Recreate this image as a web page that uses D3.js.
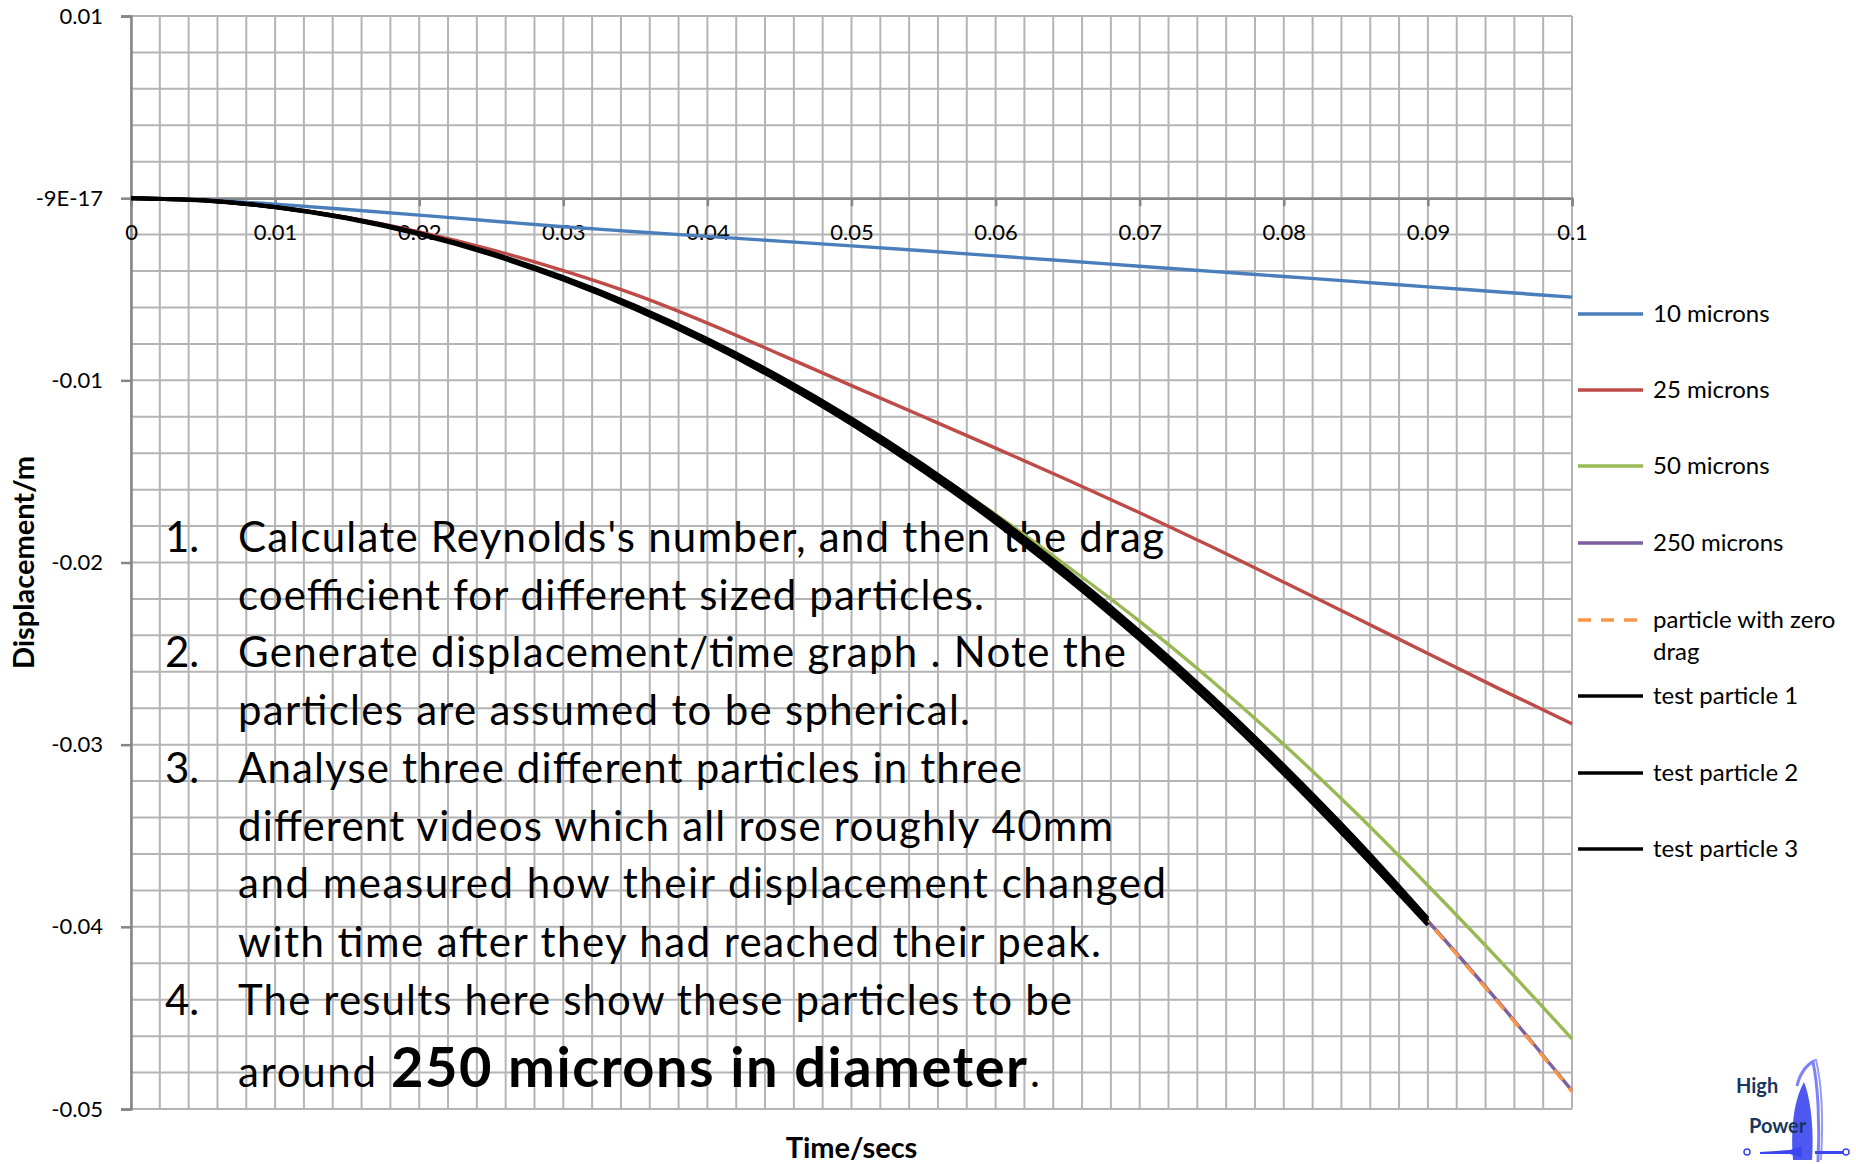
<!DOCTYPE html>
<html>
<head>
<meta charset="utf-8">
<script src="https://cdn.jsdelivr.net/npm/d3@7"></script>
<style>
  html, body { margin: 0; padding: 0; background: #ffffff; }
  svg { display: block; }
  text { font-family: Lato, "Open Sans", sans-serif; }
</style>
</head>
<body>
<svg id="chart" width="1856" height="1164"></svg>
<script>
// ---------------- DATA ----------------
const time = [0, 0.005, 0.01, 0.015, 0.02, 0.025, 0.03, 0.035, 0.04, 0.045, 0.05,
              0.055, 0.06, 0.065, 0.07, 0.075, 0.08, 0.085, 0.09, 0.095, 0.1];
const testTime = [0, 0.005, 0.01, 0.015, 0.02, 0.025, 0.03, 0.035, 0.04, 0.045, 0.05,
                  0.055, 0.06, 0.065, 0.07, 0.075, 0.08, 0.085, 0.09];

const microns10 = [0, -0.00010, -0.00033, -0.00062, -0.00093, -0.00125, -0.00157, -0.00184, -0.00210,
                   -0.00236, -0.00262, -0.00289, -0.00317, -0.00345, -0.00374, -0.00402, -0.00430,
                   -0.00458, -0.00487, -0.00515, -0.00543];
const microns25 = [0, -0.00012, -0.00048, -0.00106, -0.00185, -0.00282, -0.00398, -0.00530, -0.00686,
                   -0.00856, -0.01029, -0.01200, -0.01372, -0.01547, -0.01727, -0.01914, -0.02108,
                   -0.02303, -0.02500, -0.02695, -0.02886];
const microns50 = [0, -0.00012, -0.00049, -0.00110, -0.00196, -0.00306, -0.00440, -0.00599, -0.00783,
                   -0.00990, -0.01216, -0.01469, -0.01736, -0.02022, -0.02323, -0.02649, -0.02999,
                   -0.03374, -0.03773, -0.04187, -0.04615];
const microns250 = [0, -0.00012, -0.00049, -0.00110, -0.00196, -0.00306, -0.00441, -0.00600, -0.00784,
                    -0.00992, -0.01225, -0.01482, -0.01764, -0.02069, -0.02400, -0.02755, -0.03135,
                    -0.03540, -0.03968, -0.04422, -0.04900];
const zeroDrag = [0, -0.00012, -0.00049, -0.00110, -0.00196, -0.00307, -0.00441, -0.00601, -0.00785,
                  -0.00993, -0.01226, -0.01484, -0.01766, -0.02072, -0.02403, -0.02759, -0.03139,
                  -0.03544, -0.03973, -0.04427, -0.04905];
const testParticle1 = [0, -0.00012, -0.00048, -0.00108, -0.00192, -0.00301, -0.00434, -0.00591, -0.00773,
                       -0.00979, -0.01209, -0.01464, -0.01744, -0.02049, -0.02379, -0.02734, -0.03114,
                       -0.03519, -0.03955];
const testParticle2 = [0, -0.00012, -0.00049, -0.00109, -0.00194, -0.00304, -0.00439, -0.00598, -0.00782,
                       -0.00990, -0.01222, -0.01479, -0.01760, -0.02066, -0.02396, -0.02751, -0.03131,
                       -0.03536, -0.03968];
const testParticle3 = [0, -0.00013, -0.00050, -0.00112, -0.00199, -0.00310, -0.00447, -0.00609, -0.00795,
                       -0.01005, -0.01240, -0.01499, -0.01782, -0.02090, -0.02423, -0.02780, -0.03161,
                       -0.03566, -0.03990];

const seriesNames = ["10 microns", "25 microns", "50 microns", "250 microns",
                     "particle with zero drag", "test particle 1", "test particle 2", "test particle 3"];

const xTickValues = [0, 0.01, 0.02, 0.03, 0.04, 0.05, 0.06, 0.07, 0.08, 0.09, 0.1];
const xTickLabels = ["0", "0.01", "0.02", "0.03", "0.04", "0.05", "0.06", "0.07", "0.08", "0.09", "0.1"];
const yTickValues = [0.01, 0, -0.01, -0.02, -0.03, -0.04, -0.05];
const yTickLabels = ["0.01", "-9E-17", "-0.01", "-0.02", "-0.03", "-0.04", "-0.05"];

const xTitle = "Time/secs";
const yTitle = "Displacement/m";

const notes = [
  {num: "1.", text: "Calculate Reynolds's number, and then the drag"},
  {num: "",   text: "coefficient for different sized particles."},
  {num: "2.", text: "Generate displacement/time graph . Note the"},
  {num: "",   text: "particles are assumed to be spherical."},
  {num: "3.", text: "Analyse three different particles in three"},
  {num: "",   text: "different videos which all rose roughly 40mm"},
  {num: "",   text: "and measured how their displacement changed"},
  {num: "",   text: "with time after they had reached their peak."},
  {num: "4.", text: "The results here show these particles to be"}
];
const lastNote = {pre: "around", bold: "250 microns in diameter", post: "."};

// ---------------- LAYOUT / STYLE ----------------
const svg = d3.select("#chart");
const W = 1856, H = 1164;
svg.append("rect").attr("width", W).attr("height", H).attr("fill", "#ffffff");

const x = d3.scaleLinear().domain([0, 0.1]).range([131, 1572]);
const y = d3.scaleLinear().domain([-0.05, 0.01]).range([1109, 16]);

const gridColor = "#b4b4b4";
const axisColor = "#868686";

// gridlines (minor every 0.002)
const gGrid = svg.append("g");
gGrid.selectAll("line.v").data(x.ticks(50)).join("line")
  .attr("x1", d => x(d)).attr("x2", d => x(d))
  .attr("y1", y(0.01)).attr("y2", y(-0.05))
  .attr("stroke", gridColor).attr("stroke-width", 2);
gGrid.selectAll("line.h").data(y.ticks(30)).join("line")
  .attr("x1", x(0)).attr("x2", x(0.1))
  .attr("y1", d => y(d)).attr("y2", d => y(d))
  .attr("stroke", gridColor).attr("stroke-width", 2);

// Y axis
const yAxis = d3.axisLeft(y).tickValues(yTickValues)
  .tickFormat((d, i) => yTickLabels[i]).tickSize(10).tickPadding(18);
const gy = svg.append("g").attr("transform", "translate(" + x(0) + ",0)").call(yAxis);
gy.select(".domain").attr("stroke", axisColor).attr("stroke-width", 2.5);
gy.selectAll(".tick line").attr("stroke", axisColor).attr("stroke-width", 2.5);
gy.selectAll(".tick text").attr("font-size", 22).attr("fill", "#000")
  .attr("font-family", "Lato, sans-serif");

// X axis at y = 0
const xAxis = d3.axisBottom(x).tickValues(xTickValues)
  .tickFormat((d, i) => xTickLabels[i]).tickSize(8).tickPadding(18);
const gx = svg.append("g").attr("transform", "translate(0," + y(0) + ")").call(xAxis);
gx.select(".domain").attr("stroke", axisColor).attr("stroke-width", 2.5);
gx.selectAll(".tick line").attr("stroke", axisColor).attr("stroke-width", 2.5);
gx.selectAll(".tick text").attr("font-size", 22).attr("fill", "#000")
  .attr("font-family", "Lato, sans-serif");

// axis titles
svg.append("text").text(xTitle)
  .attr("x", (x(0) + x(0.1)) / 2).attr("y", 1158)
  .attr("text-anchor", "middle").attr("font-weight", "bold").attr("font-size", 29);
const yTitleCy = (y(0.01) + y(-0.05)) / 2;
svg.append("text").text(yTitle)
  .attr("transform", "translate(34," + yTitleCy + ") rotate(-90)")
  .attr("text-anchor", "middle").attr("font-weight", "bold").attr("font-size", 29);

// ---------------- NOTES TEXT ----------------
const noteBaselines = [552, 610, 667, 725, 783, 841, 898, 957, 1015];
const noteRights = [1164, 984, 1126, 970, 1022, 1113, 1166, 1101, 1072];
const gNotes = svg.append("g");
notes.forEach((n, i) => {
  if (n.num) {
    gNotes.append("text").text(n.num).attr("x", 165).attr("y", noteBaselines[i])
      .attr("font-size", 42).attr("fill", "#000");
  }
  gNotes.append("text").text(n.text).attr("x", 238).attr("y", noteBaselines[i])
    .attr("font-size", 42).attr("fill", "#000")
    .attr("textLength", noteRights[i] - 238).attr("lengthAdjust", "spacing");
});
gNotes.append("text").text(lastNote.pre).attr("x", 238).attr("y", 1087)
  .attr("font-size", 42).attr("fill", "#000")
  .attr("textLength", 138).attr("lengthAdjust", "spacing");
gNotes.append("text").text(lastNote.bold).attr("x", 391).attr("y", 1087)
  .attr("font-size", 56).attr("font-weight", "bold").attr("fill", "#000")
  .attr("textLength", 636).attr("lengthAdjust", "spacing");
gNotes.append("text").text(lastNote.post).attr("x", 1030).attr("y", 1087)
  .attr("font-size", 42).attr("fill", "#000");

// ---------------- SERIES ----------------
const line = d3.line().x(d => x(d[0])).y(d => y(d[1])).curve(d3.curveMonotoneX);
const series = [
  {name: seriesNames[0], t: time, v: microns10, color: "#4a7ebb", dash: null, w: 3.4},
  {name: seriesNames[1], t: time, v: microns25, color: "#be4b48", dash: null, w: 3.4},
  {name: seriesNames[2], t: time, v: microns50, color: "#98b954", dash: null, w: 3.4},
  {name: seriesNames[3], t: time, v: microns250, color: "#7d60a0", dash: null, w: 3.4},
  {name: seriesNames[4], t: time, v: zeroDrag, color: "#f79646", dash: "13,10", w: 3.4},
  {name: seriesNames[5], t: testTime, v: testParticle1, color: "#000000", dash: null, w: 4},
  {name: seriesNames[6], t: testTime, v: testParticle2, color: "#000000", dash: null, w: 4},
  {name: seriesNames[7], t: testTime, v: testParticle3, color: "#000000", dash: null, w: 4}
];
const gSeries = svg.append("g");
gSeries.selectAll("path").data(series).join("path")
  .attr("d", s => line(s.t.map((t, i) => [t, s.v[i]])))
  .attr("fill", "none")
  .attr("stroke", s => s.color)
  .attr("stroke-width", s => s.w)
  .attr("stroke-dasharray", s => s.dash)
  .attr("stroke-linejoin", "round");

// ---------------- LEGEND ----------------
const legendY = [314, 390, 466, 543, 620, 696, 773, 849];
const gLeg = svg.append("g");
series.forEach((s, i) => {
  gLeg.append("line").attr("x1", 1578).attr("x2", 1643)
    .attr("y1", legendY[i]).attr("y2", legendY[i])
    .attr("stroke", s.color).attr("stroke-width", 3.4)
    .attr("stroke-dasharray", s.dash);
  const t = gLeg.append("text").attr("x", 1653).attr("y", legendY[i] + 8)
    .attr("font-size", 24).attr("fill", "#000");
  if (s.name === "particle with zero drag") {
    t.append("tspan").attr("x", 1653).text("particle with zero");
    t.append("tspan").attr("x", 1653).attr("dy", 32).text("drag");
  } else {
    t.text(s.name);
  }
});

// ---------------- LOGO ----------------
const gLogo = svg.append("g");
gLogo.append("path")
  .attr("d", "M1793,1160 C1790,1125 1795,1098 1804,1082 C1811,1100 1814,1130 1812,1160 Z")
  .attr("fill", "#3b46f0").attr("opacity", 0.9);
gLogo.append("path")
  .attr("d", "M1797,1086 C1800,1072 1808,1064 1813,1062 C1818,1085 1820,1125 1818,1162")
  .attr("fill", "none").attr("stroke", "#5a64f2").attr("stroke-width", 3).attr("opacity", 0.8);
gLogo.append("path")
  .attr("d", "M1802,1074 C1806,1066 1812,1060 1816,1060 C1822,1085 1823,1125 1821,1160")
  .attr("fill", "none").attr("stroke", "#7a82f5").attr("stroke-width", 2).attr("opacity", 0.8);
gLogo.append("path")
  .attr("d", "M1760,1152 L1790,1150 L1802,1146 L1802,1158 L1790,1154 L1760,1154 Z M1815,1151 L1846,1151 L1846,1154 L1815,1154 Z")
  .attr("fill", "#3b46f0");
gLogo.append("circle").attr("cx", 1747).attr("cy", 1152).attr("r", 3)
  .attr("fill", "none").attr("stroke", "#3b46f0").attr("stroke-width", 1.5);
gLogo.append("circle").attr("cx", 1846).attr("cy", 1152).attr("r", 3)
  .attr("fill", "#ffffff").attr("stroke", "#3b46f0").attr("stroke-width", 1.5);
gLogo.append("text").text("High").attr("x", 1736).attr("y", 1093)
  .attr("font-size", 20).attr("font-weight", "bold").attr("fill", "#17375e");
gLogo.append("text").text("Power").attr("x", 1749).attr("y", 1133)
  .attr("font-size", 20).attr("font-weight", "bold").attr("fill", "#17375e");
</script>
</body>
</html>
